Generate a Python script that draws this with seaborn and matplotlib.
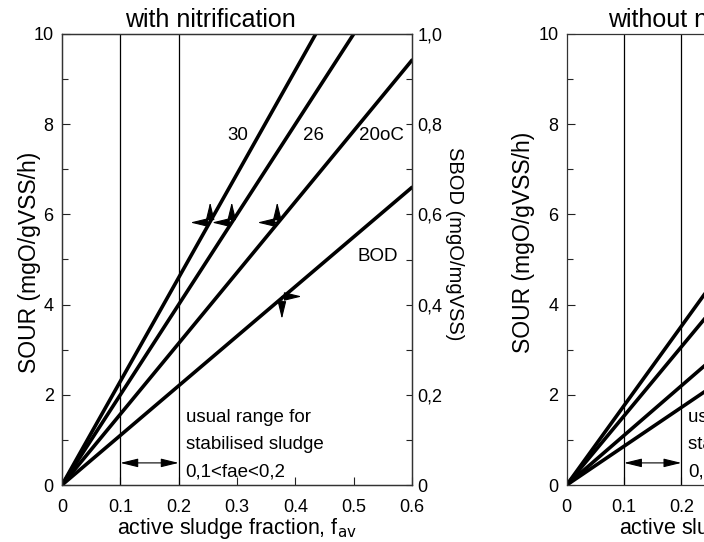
import matplotlib.pyplot as plt
import numpy as np
import seaborn as sns


sns.set_theme(style="ticks")
plt.rcParams["font.family"] = ["Liberation Sans", "DejaVu Sans"]

# active sludge fraction ticks
fav_ticks = [0, 0.1, 0.2, 0.3, 0.4, 0.5, 0.6]
fav_ticklabels = ["0", "0.1", "0.2", "0.3", "0.4", "0.5", "0.6"]
sour_ticks = [0, 2, 4, 6, 8, 10]
sbod_ticks = [0, 0.1, 0.2, 0.3, 0.4, 0.5, 0.6, 0.7, 0.8, 0.9, 1.0]
sbod_ticklabels = ["0", "", "0,2", "", "0,4", "", "0,6", "", "0,8", "", "1,0"]
range_bounds = [0.1, 0.2]

# with nitrification: line start / end points
with_names = ["30", "26", "20oC", "BOD"]
with_fav = [[0, 0.435], [0, 0.50], [0, 0.60], [0, 0.60]]
with_sour = [[0, 10.0], [0, 10.0], [0, 9.42], [0, 6.6]]

# without nitrification (visible part only)
without_fav = [[0, 0.25], [0, 0.25], [0, 0.25], [0, 0.25]]
without_sour = [[0, 4.4], [0, 3.83], [0, 2.75], [0, 2.15]]

range_text = ["usual range for", "stabilised sludge", "0,1<fae<0,2"]


def draw_panel(ax, fav, sour, title, title_x, ylabel_xy):
    for x, y in zip(fav, sour):
        sns.lineplot(x=x, y=y, ax=ax, color="black", linewidth=2.6)
    for b in range_bounds:
        ax.axvline(b, color="black", linewidth=0.9)

    ax.set_xlim(0, 0.6)
    ax.set_ylim(0, 10)
    ax.set_xticks(fav_ticks)
    ax.set_xticklabels(fav_ticklabels)
    ax.set_yticks(sour_ticks)
    ax.set_yticklabels([str(t) for t in sour_ticks])
    ax.set_yticks(np.arange(1, 10, 2), minor=True)
    ax.tick_params(axis="x", direction="in", length=6, width=0.8, labelsize=13, pad=10, colors="#222222")
    ax.tick_params(axis="y", direction="in", length=6, width=0.8, labelsize=13, pad=6, colors="#222222")
    ax.tick_params(axis="y", which="minor", direction="in", length=4, width=0.8)
    ax.tick_params(labelcolor="black")
    for s in ax.spines.values():
        s.set_linewidth(0.9)
        s.set_color("#333333")

    ax.set_xlabel(r"active sludge fraction, f$_{\mathrm{av}}$", fontsize=15.5, labelpad=0, color="black")
    ax.set_ylabel("SOUR (mgO/gVSS/h)", fontsize=16.5, color="black")
    ax.yaxis.set_label_coords(*ylabel_xy)
    ax.text(title_x, 1.016, title, transform=ax.transAxes, ha="left", va="baseline",
            fontsize=18, color="black")

    for i, line in enumerate(range_text):
        ax.text(0.212, [1.49, 0.89, 0.29][i], line, ha="left", va="center", fontsize=13.5, color="black")
    ax.annotate("", xy=(range_bounds[0], 0.49), xytext=(range_bounds[1], 0.49),
                arrowprops=dict(arrowstyle="<|-|>,head_length=0.9,head_width=0.22",
                                color="black", lw=0.8, shrinkA=0, shrinkB=0))


fig = plt.figure(figsize=(7.04, 5.42), dpi=100)
ax_left = fig.add_axes([62 / 704, 57 / 542, 350 / 704, 451 / 542])
ax_right = fig.add_axes([566.7 / 704, 57 / 542, 344 / 704, 451 / 542])

draw_panel(ax_left, with_fav, with_sour, "with nitrification", 0.18, (-0.06, 0.494))
draw_panel(ax_right, without_fav, without_sour, "without nitrification", 0.12, (-0.092, 0.537))

# secondary SBOD axis on the left panel
ax2 = ax_left.twinx()
ax2.set_ylim(0, 1)
ax2.set_yticks(sbod_ticks)
ax2.set_yticklabels(sbod_ticklabels)
ax2.tick_params(axis="y", direction="in", length=4, width=0.8, labelsize=13, pad=4, colors="#222222",
                labelcolor="black")
for s in ax2.spines.values():
    s.set_linewidth(0.9)
    s.set_color("#333333")
ax2.set_ylabel("SBOD (mgO/mgVSS)", fontsize=14.5, rotation=270, color="black")
ax2.yaxis.set_label_coords(1.15, 0.534)

# temperature / BOD labels on the left panel
label_x = [0.302, 0.431, 0.548, 0.541]
label_y = [7.74, 7.74, 7.74, 5.06]
for name, lx, ly in zip(with_names, label_x, label_y):
    ax_left.text(lx, ly, name, ha="center", va="center", fontsize=13.5, color="black")

# small direction arrows on the lines
arrow_x = [0.254, 0.291, 0.369, 0.377]
arrow_y = [5.82, 5.82, 5.82, 4.18]
arrow_dx = [-0.034, -0.034, -0.034, 0.034]
arrow_dy = [0.45, 0.45, 0.45, -0.5]
style = dict(arrowstyle="-|>,head_length=0.9,head_width=0.22", color="black", lw=0.8,
             shrinkA=0, shrinkB=0)
for x0, y0, dx, dy in zip(arrow_x, arrow_y, arrow_dx, arrow_dy):
    ax_left.annotate("", xy=(x0 + dx, y0), xytext=(x0, y0), arrowprops=style)
    ax_left.annotate("", xy=(x0, y0 + dy), xytext=(x0, y0), arrowprops=style)

fig.savefig("out.png", dpi=100)
plt.close(fig)
